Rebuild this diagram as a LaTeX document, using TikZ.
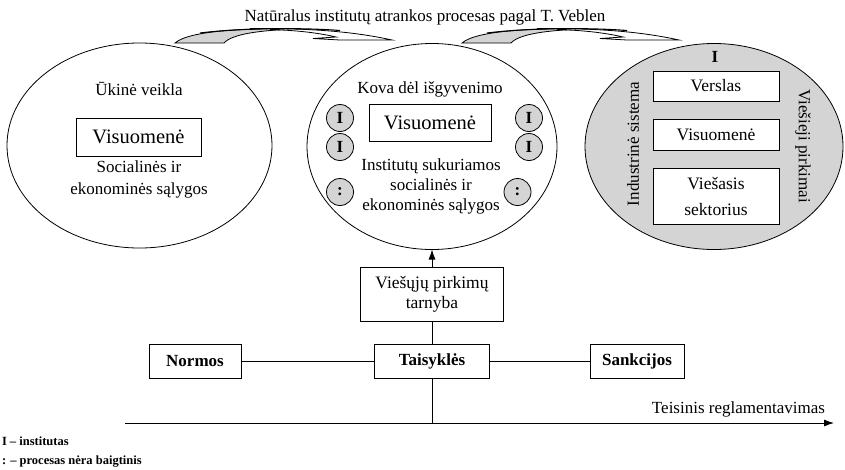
\documentclass[tikz,border=0pt]{standalone}
\usepackage{fontspec}
\setmainfont{Liberation Serif}
\usetikzlibrary{shapes.geometric,arrows.meta}
\definecolor{shade}{gray}{0.83}
\begin{document}
\begin{tikzpicture}[x=1pt,y=-1pt,
  every node/.style={inner sep=0pt, outer sep=0pt},
  txt/.style={font=\fontsize{17}{21}\selectfont, align=center},
  ell/.style={ellipse, draw, line width=0.8pt},
  vbox/.style={draw, line width=0.9pt, font=\fontsize{20.5}{24}\selectfont},
  icirc/.style={circle, draw, line width=0.8pt, fill=shade, minimum size=27pt, font=\bfseries\fontsize{17}{20}\selectfont},
  rbox/.style={draw, line width=0.9pt, fill=white, minimum width=126pt, font=\fontsize{17.5}{26}\selectfont, align=center},
  lbox/.style={draw, line width=0.9pt, font=\bfseries\fontsize{17}{20}\selectfont, minimum height=34pt},
  conn/.style={line width=0.9pt},
  legend/.style={font=\bfseries\fontsize{12.5}{14}\selectfont, anchor=west},
  carrow/.style={line width=0.8pt}
]
\useasboundingbox (0,0) rectangle (845,469);

% title
\node[txt] (title) at (425,17) {Natūralus institutų atrankos procesas pagal T. Veblen};

% curved arrows
\foreach \dx in {0,287}{
\begin{scope}[shift={(\dx,0)}]
\filldraw[carrow, fill=shade] (175,43) .. controls (190,30) and (250,28) .. (300,29)
   .. controls (260,30) and (232,34) .. (224,43) -- cycle;
\filldraw[carrow, fill=white] (250,28.6) .. controls (320,28) and (360,33) .. (392,40)
   -- (340,40) -- (313,38.5) -- (336,37) .. controls (315,32) and (290,30) .. (270,29.6);
\draw[line width=1.1pt] (200,33) .. controls (240,28) and (300,27.5) .. (340,30.5);
\end{scope}}

% ellipses
\node[ell, minimum width=265pt, minimum height=205pt] (E1) at (139.5,145.5) {};
\node[ell, minimum width=250pt, minimum height=206pt] (E2) at (432,146.5) {};
\node[ell, fill=shade, minimum width=258pt, minimum height=206pt] (E3) at (714,146.5) {};

% left ellipse content
\node[txt] (uk) at (139,89) {Ūkinė veikla};
\node[vbox, minimum width=125pt, minimum height=38pt] (v1) at (138.5,137) {Visuomenė};
\node[txt, font=\fontsize{17}{22}\selectfont] (s1) at (139,179) {Socialinės ir\\ekonominės sąlygos};

% middle ellipse content
\node[txt] (kova) at (430,89) {Kova dėl išgyvenimo};
\node[vbox, minimum width=122pt, minimum height=37pt] (v2) at (430,122.5) {Visuomenė};
\node[txt, font=\fontsize{17}{20}\selectfont] (inst) at (431,186) {Institutų sukuriamos\\socialinės ir\\ekonominės sąlygos};
\node[icirc] (l1) at (340,118) {I};
\node[icirc] (l2) at (340,147) {I};
\node[icirc] (l3) at (340,192) {:};
\node[icirc] (r1) at (529,118) {I};
\node[icirc] (r2) at (529,147) {I};
\node[icirc] (r3) at (517.5,192) {:};

% right ellipse content
\node[font=\bfseries\fontsize{17}{20}\selectfont] (I3) at (715,57) {I};
\node[rbox, minimum height=30pt] (vers) at (716,86) {Verslas};
\node[rbox, minimum height=31pt] (visu) at (716,134.5) {Visuomenė};
\node[rbox, minimum height=56pt] (vies) at (716,196) {Viešasis\\sektorius};
\node[txt, rotate=90] (ind) at (633,144) {Industrinė sistema};
\node[txt, rotate=-90] (vp) at (803,146) {Viešieji pirkimai};

% lower part
\node[draw, line width=0.9pt, minimum width=143pt, minimum height=54pt, font=\fontsize{17.5}{20}\selectfont, align=center] (vpt) at (432,294) {Viešųjų pirkimų\\tarnyba};
\node[lbox, minimum width=115pt] (tais) at (432,361) {Taisyklės};
\node[lbox, minimum width=92pt] (norm) at (195,361) {Normos};
\node[lbox, minimum width=94pt] (sank) at (637,361) {Sankcijos};

\coordinate (ax0) at (125,423);
\coordinate (ax1) at (834,423);
\draw[conn, -{Latex[length=10pt,width=7pt]}] (vpt.north) -- (E2.south);
\draw[conn] (vpt.south) -- (tais.north);
\draw[conn] (norm.east) -- (tais.west);
\draw[conn] (tais.east) -- (sank.west);
\draw[conn] (tais.south) -- (tais.south |- ax0);
\draw[conn, -{Latex[length=10pt,width=7pt]}] (ax0) -- (ax1);
\node[txt, anchor=base east] (teis) at (825,413) {Teisinis reglamentavimas};

% legend
\node[legend] (lg1) at (2,441) {I – institutas};
\node[legend] (lg2) at (2,462) {: – procesas nėra baigtinis};
\end{tikzpicture}
\end{document}
